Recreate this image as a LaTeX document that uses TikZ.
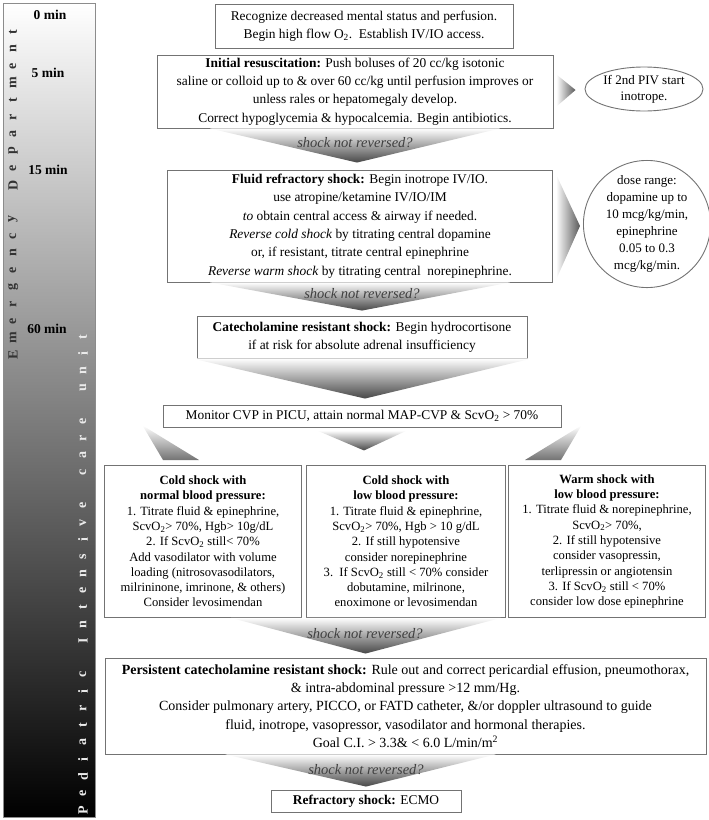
\documentclass[tikz,border=0pt]{standalone}
\usepackage{fontspec}
\setmainfont{Liberation Serif}
\usetikzlibrary{shapes.geometric,calc}

\tikzset{
  stepbox/.style={draw=black!55, line width=0.9pt, fill=white, align=center, inner sep=1pt},
  colbox/.style={stepbox, anchor=north, minimum width=197, minimum height=152,
    font=\fontsize{12.6}{15.3}\selectfont},
  fadearrow/.style={top color=white, bottom color=black!72},
  sidefade/.style={top color=white, bottom color=black!55},
  sidearrow/.style={left color=white, right color=black!65},
  asklabel/.style={font=\fontsize{14.5}{16}\selectfont\itshape, text=black!75, inner sep=0pt},
  timelabel/.style={font=\fontsize{13.5}{15}\selectfont\bfseries, inner sep=0pt},
  barletter/.style={rotate=90, font=\fontsize{14}{16}\selectfont\bfseries, inner sep=0pt},
}

\begin{document}
\begin{tikzpicture}[x=1pt, y=-1pt, font=\fontsize{13.4}{18.3}\selectfont]
  \useasboundingbox (0,0) rectangle (709,820);

  % time bar on the left
  \shadedraw[top color=white, bottom color=black, draw=black!45, line width=0.8pt]
    (3,3) rectangle (95,817);
  \foreach \ch [count=\i from 0] in {E,m,e,r,g,e,n,c,y,{},D,e,p,a,r,t,m,e,n,t}
    \node[barletter, text=black!80] (ed\i) at (13,{355-\i*17}) {\ch};
  \foreach \ch [count=\i from 0] in {P,e,d,i,a,t,r,i,c,{},I,n,t,e,n,s,i,v,e,{},c,a,r,e,{},u,n,i,t}
    \node[barletter, text=white!92!black] (icu\i) at (83,{810-\i*16.9}) {\ch};
  \node[timelabel] (t0) at (50,15) {0 min};
  \node[timelabel] (t5) at (48,73) {5 min};
  \node[timelabel] (t15) at (48,170) {15 min};
  \node[timelabel] (t60) at (47,329) {60 min};

  % main flow
  \node[stepbox, minimum width=298, minimum height=44] (recog) at (364,26)
    {Recognize decreased mental status and perfusion.\\
     Begin high flow O\textsubscript{2}.\ \ Establish IV/IO access.};
  \node[stepbox, minimum width=396, minimum height=73] (init) at (355,91.5)
    {\textbf{Initial resuscitation:} Push boluses of 20 cc/kg isotonic\\
     saline or colloid up to \& over 60 cc/kg until perfusion improves or\\
     unless rales or hepatomegaly develop.\\
     Correct hypoglycemia \& hypocalcemia. Begin antibiotics.};
  \node[stepbox, minimum width=385, minimum height=112] (fluid) at (360,226)
    {\textbf{Fluid refractory shock:} Begin inotrope IV/IO.\\
     use atropine/ketamine IV/IO/IM\\
     \textit{to} obtain central access \& airway if needed.\\
     \textit{Reverse cold shock} by titrating central dopamine\\
     or, if resistant, titrate central epinephrine\\
     \textit{Reverse warm shock} by titrating central\ \ norepinephrine.};
  \node[stepbox, minimum width=330, minimum height=42] (catech) at (362,337)
    {\textbf{Catecholamine resistant shock:} Begin hydrocortisone\\
     if at risk for absolute adrenal insufficiency};
  \node[stepbox, minimum width=398, minimum height=22] (monitor) at (362,416)
    {Monitor CVP in PICU, attain normal MAP-CVP \& ScvO\textsubscript{2} > 70\%};

  \node[colbox] (coldnorm) at (203,465)
    {\textbf{Cold shock with}\\ \textbf{normal blood pressure:}\\
     1. Titrate fluid \& epinephrine,\\ ScvO\textsubscript{2}> 70\%, Hgb> 10g/dL\\
     2. If ScvO\textsubscript{2} still< 70\%\\ Add vasodilator with volume\\
     loading (nitrosovasodilators,\\ milrininone, imrinone, \& others)\\
     Consider levosimendan};
  \node[colbox, minimum width=199] (coldlow) at (406,465)
    {\textbf{Cold shock with}\\ \textbf{low blood pressure:}\\
     1. Titrate fluid \& epinephrine,\\ ScvO\textsubscript{2}> 70\%, Hgb > 10 g/dL\\
     2. If still hypotensive\\ consider norepinephrine\\
     3.\ \ If ScvO\textsubscript{2} still < 70\% consider\\
     dobutamine, milrinone,\\ enoximone or levosimendan};
  \node[colbox] (warmlow) at (607,465)
    {\textbf{Warm shock with}\\ \textbf{low blood pressure:}\\
     1. Titrate fluid \& norepinephrine,\\ ScvO\textsubscript{2}> 70\%,\\
     2. If still hypotensive\\ consider vasopressin,\\
     terlipressin or angiotensin\\ 3. If ScvO\textsubscript{2} still < 70\%\\
     consider low dose epinephrine};

  \node[stepbox, minimum width=601, minimum height=96, font=\fontsize{14}{18.2}\selectfont]
    (persist) at (405.5,706)
    {\textbf{Persistent catecholamine resistant shock:} Rule out and correct pericardial effusion, pneumothorax,\\
     \& intra-abdominal pressure >12 mm/Hg.\\
     Consider pulmonary artery, PICCO, or FATD catheter, \&/or doppler ultrasound to guide\\
     fluid, inotrope, vasopressor, vasodilator and hormonal therapies.\\
     Goal C.I. > 3.3\& < 6.0 L/min/m\textsuperscript{2}};
  \node[stepbox, minimum width=190, minimum height=22] (ecmo) at (366,801)
    {\textbf{Refractory shock:} ECMO};

  % side notes
  \node[stepbox, ellipse, inner sep=0pt, minimum width=118, minimum height=44,
    font=\fontsize{13}{16}\selectfont] (piv) at (644,89)
    {If 2nd PIV start\\ inotrope.};
  \node[stepbox, circle, inner sep=0pt, minimum size=126,
    font=\fontsize{13}{17}\selectfont] (dose) at (647,224)
    {dose range:\\ dopamine up to\\ 10 mcg/kg/min,\\ epinephrine\\ 0.05 to 0.3\\ mcg/kg/min.};

  % shaded arrows
  \shade[fadearrow] ($(init.south)+(-145,0)$) -- ($(init.south)+(145,0)$)
    -- ($(fluid.north)+(-3,-7)$) -- cycle;
  \shade[fadearrow] ($(fluid.south)+(-150,0)$) -- ($(fluid.south)+(150,0)$)
    -- ($(catech.north)+(0,-5)$) -- cycle;
  \shade[fadearrow] ($(catech.south)+(-170,0)$) -- ($(catech.south)+(170,0)$)
    -- ($(monitor.north)+(3,-6)$) -- cycle;
  \shade[fadearrow] ($(monitor.south)+(-45,3)$) -- ($(monitor.south)+(45,3)$)
    -- ($(monitor.south)+(2,23)$) -- cycle;
  \shade[sidefade] ($(monitor.south west)+(-20,-2)$) -- ($(coldnorm.north)+(-4,-5)$)
    -- ($(coldnorm.north)+(-40,-5)$) -- cycle;
  \shade[sidefade] ($(monitor.south east)+(20,-2)$) -- ($(warmlow.north)+(-46,-5)$)
    -- ($(warmlow.north)+(-82,-5)$) -- cycle;
  \shade[fadearrow] ($(coldlow.south)+(-175,0)$) -- ($(coldlow.south)+(95,0)$)
    -- ($(persist.north)+(-40,-4)$) -- cycle;
  \shade[fadearrow] ($(persist.south)+(-180,0)$) -- ($(persist.south)+(90,0)$)
    -- ($(ecmo.north)+(0,-3)$) -- cycle;
  \shade[sidearrow] ($(init.east)+(3,-17)$) -- ($(piv.west)+(-9,1)$)
    -- ($(init.east)+(3,15)$) -- cycle;
  \shade[sidearrow] ($(fluid.east)+(3,-52)$) -- ($(dose.west)+(-3,2)$)
    -- ($(fluid.east)+(3,54)$) -- cycle;

  \node[asklabel] (ask1) at (355,143) {shock not reversed?};
  \node[asklabel] (ask2) at (362,294) {shock not reversed?};
  \node[asklabel] (ask3) at (365,634) {shock not reversed?};
  \node[asklabel] (ask4) at (366,770) {shock not reversed?};
\end{tikzpicture}
\end{document}
